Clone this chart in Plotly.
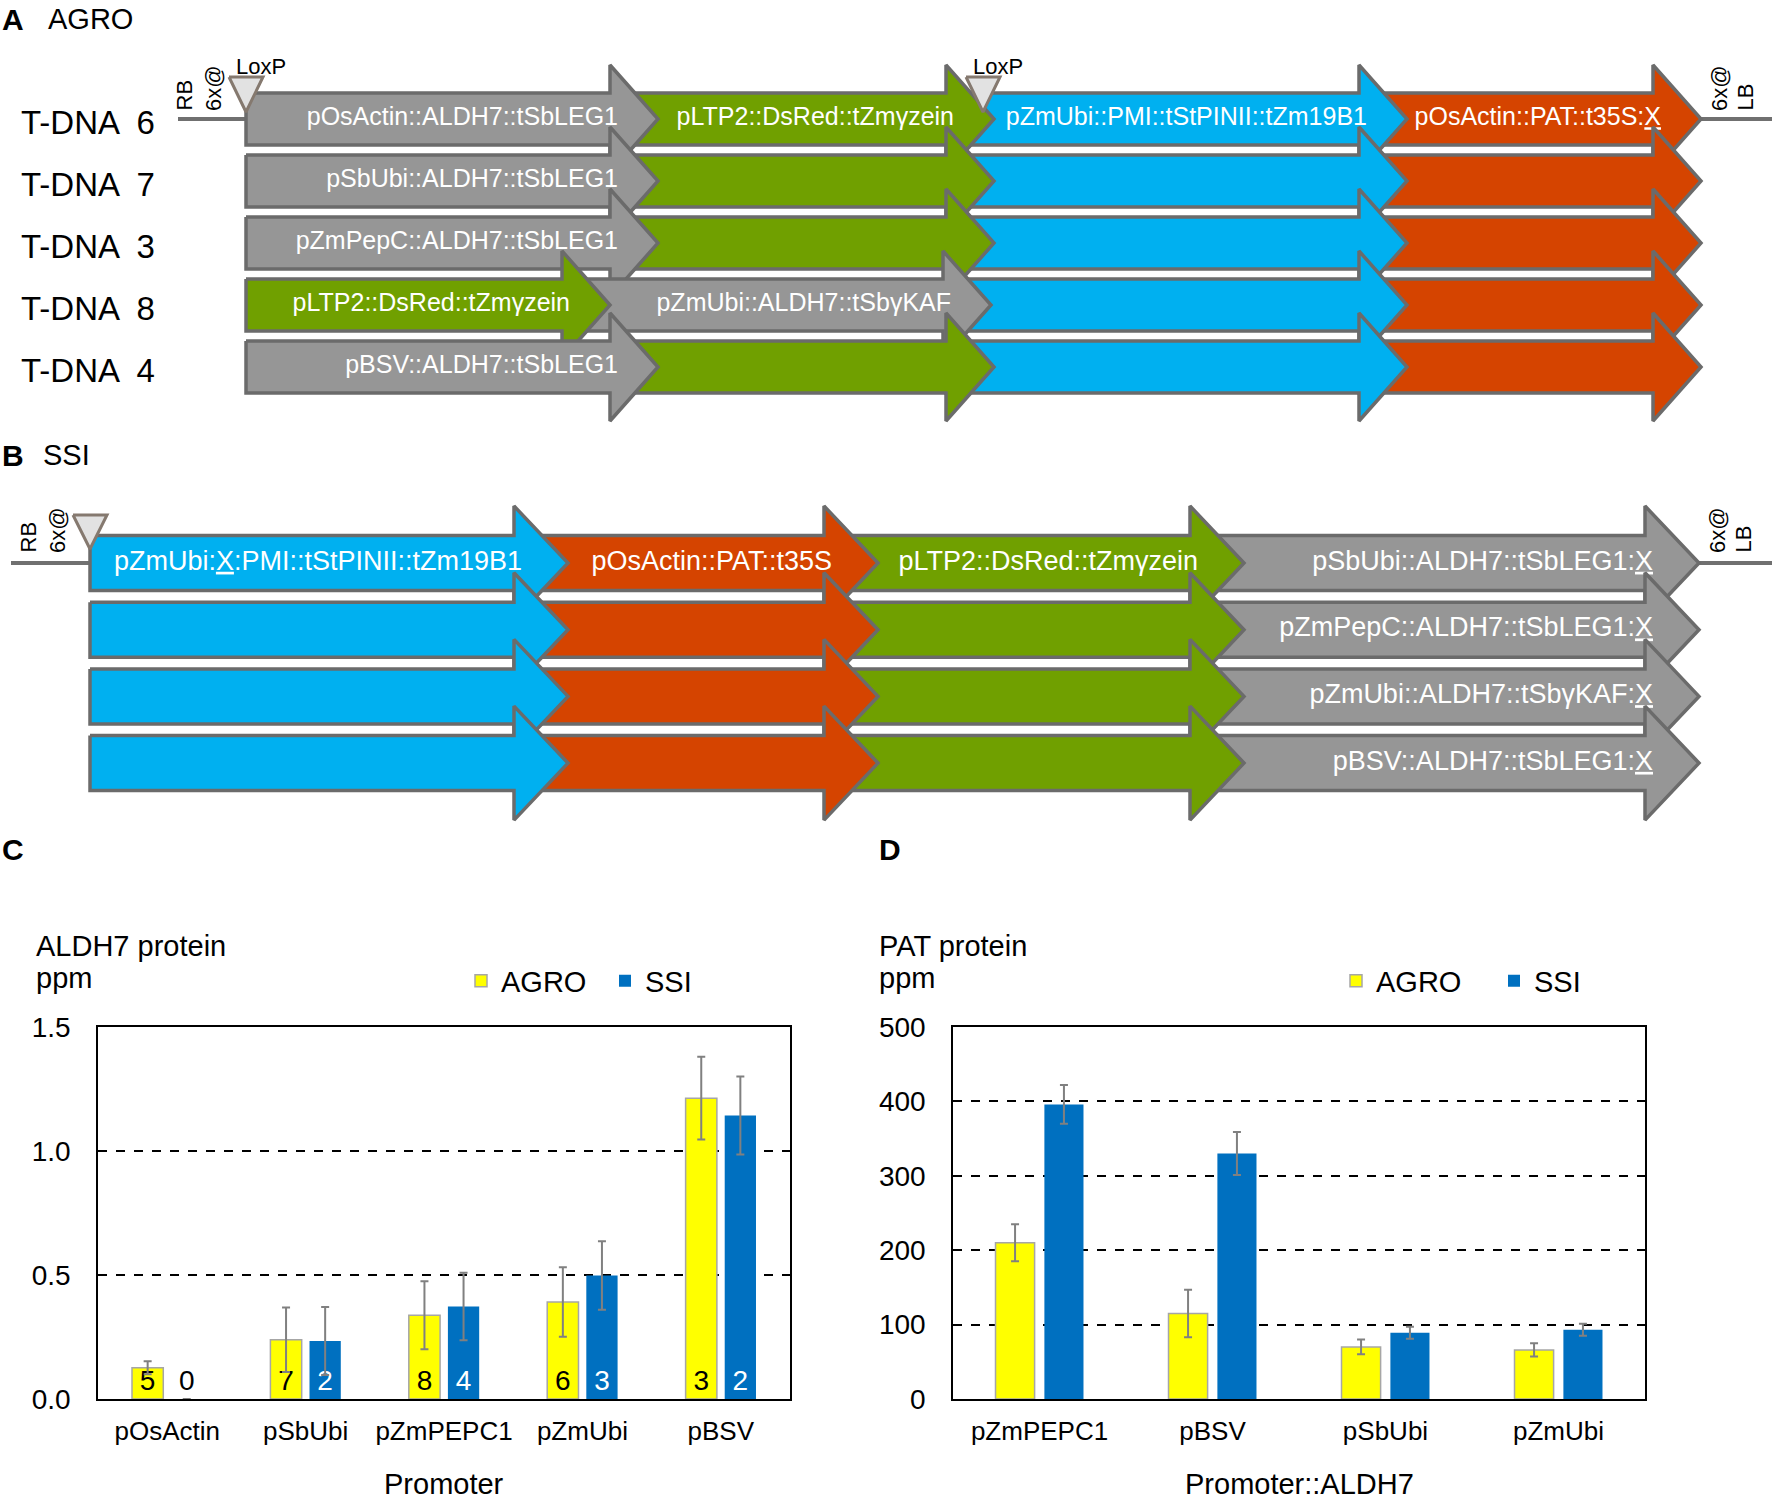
import plotly.graph_objects as go

W, H = 1772, 1503
FONT = "Liberation Sans, Arial, sans-serif"

ELEMENT_COLORS = {"ALDH7": "#969696", "DsRed": "#70A000", "PMI": "#00B0F0", "PAT": "#D54400"}
OUTLINE = "#6b6b6b"

# ---- panel A: AGRO T-DNAs (element order, lengths in map units, labels) ----
AGRO_ROWS = ["T-DNA\u20026", "T-DNA\u20027", "T-DNA\u20023", "T-DNA\u20028", "T-DNA\u20024"]
AGRO_ELEMENTS = [
    ["ALDH7", "DsRed", "PMI", "PAT"],
    ["ALDH7", "DsRed", "PMI", "PAT"],
    ["ALDH7", "DsRed", "PMI", "PAT"],
    ["DsRed", "ALDH7", "PMI", "PAT"],
    ["ALDH7", "DsRed", "PMI", "PAT"],
]
AGRO_LENGTHS = [
    [412, 336, 413, 294],
    [412, 336, 413, 294],
    [412, 336, 413, 294],
    [364, 381, 416, 294],
    [412, 336, 413, 294],
]
AGRO_LABELS = [
    ["pOsActin::ALDH7::tSbLEG1", "pLTP2::DsRed::tZmγzein",
     "pZmUbi::PMI::tStPINII::tZm19B1", "pOsActin::PAT::t35S:<u>X</u>"],
    ["pSbUbi::ALDH7::tSbLEG1", "", "", ""],
    ["pZmPepC::ALDH7::tSbLEG1", "", "", ""],
    ["pLTP2::DsRed::tZmγzein", "pZmUbi::ALDH7::tSbγKAF", "", ""],
    ["pBSV::ALDH7::tSbLEG1", "", "", ""],
]
AGRO_LOXP = [0, 737]

# ---- panel B: SSI targeting constructs ----
SSI_ELEMENTS = [
    ["PMI", "PAT", "DsRed", "ALDH7"],
    ["PMI", "PAT", "DsRed", "ALDH7"],
    ["PMI", "PAT", "DsRed", "ALDH7"],
    ["PMI", "PAT", "DsRed", "ALDH7"],
]
SSI_LENGTHS = [
    [478, 310, 366, 455],
    [478, 310, 366, 455],
    [478, 310, 366, 455],
    [478, 310, 366, 455],
]
SSI_LABELS = [
    ["pZmUbi:<u>X</u>:PMI::tStPINII::tZm19B1", "pOsActin::PAT::t35S",
     "pLTP2::DsRed::tZmγzein", "pSbUbi::ALDH7::tSbLEG1:<u>X</u>"],
    ["", "", "", "pZmPepC::ALDH7::tSbLEG1:<u>X</u>"],
    ["", "", "", "pZmUbi::ALDH7::tSbγKAF:<u>X</u>"],
    ["", "", "", "pBSV::ALDH7::tSbLEG1:<u>X</u>"],
]
SSI_LOXP = [0]

# ---- panel C: ALDH7 protein (ppm) ----
C_PROMOTERS = ["pOsActin", "pSbUbi", "pZmPEPC1", "pZmUbi", "pBSV"]
C_AGRO = [0.126, 0.239, 0.338, 0.391, 1.213]
C_AGRO_ERR = [0.026, 0.13, 0.137, 0.14, 0.167]
C_AGRO_N = [5, 7, 8, 6, 3]
C_SSI = [0, 0.234, 0.373, 0.498, 1.143]
C_SSI_ERR = [None, 0.137, 0.136, 0.138, 0.157]
C_SSI_N = [0, 2, 4, 3, 2]

# ---- panel D: PAT protein (ppm) ----
D_PROMOTERS = ["pZmPEPC1", "pBSV", "pSbUbi", "pZmUbi"]
D_AGRO = [210, 115, 70, 66]
D_AGRO_ERR = [25, 32, 10, 9]
D_SSI = [396, 330, 89, 93]
D_SSI_ERR = [26, 29, 8, 8]

# diagram geometry (canvas px on the x3/y3 overlay axes)
PANEL_A = dict(x0=246, y0=119, pitch=62, head=48, body=26, headh=54, size=25,
               flank=(178, 1772), loxp_top=77, loxp_bot=112, tag_bottom=113)
PANEL_B = dict(x0=90, y0=563, pitch=66.7, head=54, body=27.5, headh=57, size=27,
               flank=(11, 1772), loxp_top=515, loxp_bot=549, tag_bottom=555)


def px(x, y):
    return x / W, 1 - y / H


def arrow_xy(x0, x1, yc, p):
    xb = x1 - p["head"]
    xs = [x0, xb, xb, x1, xb, xb, x0, x0]
    ys = [yc - p["body"], yc - p["body"], yc - p["headh"], yc,
          yc + p["headh"], yc + p["body"], yc + p["body"], yc - p["body"]]
    return xs, ys


def draw_constructs(fig, elements, lengths, labels, loxp, p):
    x0 = p["x0"]
    total = sum(lengths[0])
    # flanking border lines
    for xa, xb in ((p["flank"][0], x0), (x0 + total, p["flank"][1])):
        fig.add_trace(go.Scatter(x=[xa, xb], y=[p["y0"], p["y0"]], mode="lines",
                                 line=dict(color="#707070", width=4), xaxis="x3", yaxis="y3",
                                 hoverinfo="skip", showlegend=False))
    for r, (elems, lens, labs) in enumerate(zip(elements, lengths, labels)):
        yc = p["y0"] + r * p["pitch"]
        tips, starts = [], []
        pos = 0
        for i, ln in enumerate(lens):
            starts.append(0 if i == 0 else tips[-1] - p["head"])
            pos += ln
            tips.append(pos)
        # right to left so earlier arrowheads sit on top
        for i in reversed(range(len(elems))):
            xs, ys = arrow_xy(x0 + starts[i], x0 + tips[i], yc, p)
            fig.add_trace(go.Scatter(x=xs, y=ys, mode="lines", fill="toself",
                                     fillcolor=ELEMENT_COLORS[elems[i]],
                                     line=dict(color=OUTLINE, width=3.5),
                                     xaxis="x3", yaxis="y3", hoverinfo="skip",
                                     showlegend=False))
        tx = [x0 + t - p["head"] + 8 for t, lab in zip(tips, labs) if lab]
        tt = [lab for lab in labs if lab]
        if tt:
            fig.add_trace(go.Scatter(x=tx, y=[yc] * len(tx), mode="text", text=tt,
                                     textposition="middle left",
                                     textfont=dict(family=FONT, size=p["size"], color="white"),
                                     xaxis="x3", yaxis="y3", hoverinfo="skip",
                                     showlegend=False))
    for lx in loxp:
        cx = x0 + lx
        fig.add_trace(go.Scatter(x=[cx - 17, cx + 17, cx, cx - 17],
                                 y=[p["loxp_top"], p["loxp_top"], p["loxp_bot"], p["loxp_top"]],
                                 mode="lines", fill="toself", fillcolor="#e2e2e2",
                                 line=dict(color="#85796f", width=3),
                                 xaxis="x3", yaxis="y3", hoverinfo="skip", showlegend=False))
    return total


fig = go.Figure()

tot_a = draw_constructs(fig, AGRO_ELEMENTS, AGRO_LENGTHS, AGRO_LABELS, AGRO_LOXP, PANEL_A)
tot_b = draw_constructs(fig, SSI_ELEMENTS, SSI_LENGTHS, SSI_LABELS, SSI_LOXP, PANEL_B)

# ---- bar charts ----
ERR = dict(type="data", color="#808080", thickness=2, width=4)
fig.add_trace(go.Bar(
    x=C_PROMOTERS, y=C_AGRO, name="AGRO", legend="legend",
    error_y=dict(array=C_AGRO_ERR, **ERR),
    marker=dict(color="#FFFF00", line=dict(color="#A6A6A6", width=1.5)),
    text=[str(n) for n in C_AGRO_N], textposition="inside", insidetextanchor="start",
    textangle=0, constraintext="none",
    textfont=dict(family=FONT, size=28, color="black"),
    xaxis="x", yaxis="y", hoverinfo="skip"))
fig.add_trace(go.Bar(
    x=C_PROMOTERS, y=C_SSI, name="SSI", legend="legend2",
    error_y=dict(array=C_SSI_ERR, **ERR),
    marker=dict(color="#0070C0", line=dict(width=0)),
    text=[str(n) for n in C_SSI_N],
    textposition=["outside" if v == 0 else "inside" for v in C_SSI],
    insidetextanchor="start", textangle=0, constraintext="none",
    insidetextfont=dict(family=FONT, size=28, color="white"),
    outsidetextfont=dict(family=FONT, size=28, color="black"),
    cliponaxis=False, xaxis="x", yaxis="y", hoverinfo="skip"))
fig.add_trace(go.Bar(
    x=D_PROMOTERS, y=D_AGRO, name="AGRO", legend="legend3",
    error_y=dict(array=D_AGRO_ERR, **ERR),
    marker=dict(color="#FFFF00", line=dict(color="#A6A6A6", width=1.5)),
    xaxis="x2", yaxis="y2", hoverinfo="skip"))
fig.add_trace(go.Bar(
    x=D_PROMOTERS, y=D_SSI, name="SSI", legend="legend4",
    error_y=dict(array=D_SSI_ERR, **ERR),
    marker=dict(color="#0070C0", line=dict(width=0)),
    xaxis="x2", yaxis="y2", hoverinfo="skip"))

C_BOX = (98, 790, 1027, 1399)
D_BOX = (953, 1645, 1027, 1399)


def xax(box):
    return dict(domain=[box[0] / W, box[1] / W], type="category", showline=True,
                linecolor="black", linewidth=2, mirror=True, ticks="", showgrid=False,
                tickfont=dict(family=FONT, size=26, color="black"), ticklabelstandoff=8,
                automargin=False, fixedrange=True)


def yax(box, rng, dtick, fmt):
    return dict(domain=[1 - box[3] / H, 1 - box[2] / H], range=rng, dtick=dtick,
                tickformat=fmt, showgrid=True, gridcolor="black", griddash="dash",
                gridwidth=1.5, showline=True, linecolor="black", linewidth=1.5,
                mirror=True, ticks="", zeroline=False, ticklabelstandoff=20,
                tickfont=dict(family=FONT, size=28, color="black"),
                automargin=False, fixedrange=True)


def legend_at(cx, cy):
    lx, ly = px(cx - 20, cy)
    return dict(x=lx, y=ly, xanchor="left", yanchor="middle", orientation="h",
                bgcolor="rgba(0,0,0,0)", font=dict(family=FONT, size=29, color="black"))


ann = []


def text(x, y, s, size, xanchor="left", bold=False, angle=0, yanchor="middle", ref="paper"):
    if ref == "paper":
        xx, yy = px(x, y)
        xr, yr = "paper", "paper"
    else:
        xx, yy = x, y
        xr, yr = "x3", "y3"
    ann.append(dict(x=xx, y=yy, xref=xr, yref=yr, text=f"<b>{s}</b>" if bold else s,
                    showarrow=False, xanchor=xanchor, yanchor=yanchor, textangle=angle,
                    font=dict(family=FONT, size=size, color="black")))


# panel headings
text(0, 19, "A", 30, bold=True)
text(46, 19, "AGRO", 29)
text(0, 455, "B", 30, bold=True)
text(41, 455, "SSI", 29)
text(0, 850, "C", 30, bold=True)
text(877, 850, "D", 30, bold=True)

# T-DNA row names
for r, name in enumerate(AGRO_ROWS):
    text(19, PANEL_A["y0"] + r * PANEL_A["pitch"] + 3, name, 33, ref="x3")

# border tags (rotated)
for p, tot in ((PANEL_A, tot_a), (PANEL_B, tot_b)):
    yb = p["tag_bottom"]
    text(p["x0"] - 62, yb, "RB", 22, xanchor="center", angle=-90, yanchor="bottom", ref="x3")
    text(p["x0"] - 33, yb, "6x@", 22, xanchor="center", angle=-90, yanchor="bottom", ref="x3")
    text(p["x0"] + tot + 18, yb, "6x@", 22, xanchor="center", angle=-90, yanchor="bottom", ref="x3")
    text(p["x0"] + tot + 44, yb, "LB", 22, xanchor="center", angle=-90, yanchor="bottom", ref="x3")
for lx in AGRO_LOXP:
    text(PANEL_A["x0"] + lx - 12, 66, "LoxP", 22, ref="x3")

# chart titles
text(34, 946, "ALDH7 protein", 29)
text(34, 978, "ppm", 29)
text(877, 946, "PAT protein", 29)
text(877, 978, "ppm", 29)
text((C_BOX[0] + C_BOX[1]) / 2, 1484, "Promoter", 29, xanchor="center")
text((D_BOX[0] + D_BOX[1]) / 2, 1484, "Promoter::ALDH7", 29, xanchor="center")

fig.update_layout(
    width=W, height=H, margin=dict(l=0, r=0, t=0, b=0, pad=0, autoexpand=False),
    paper_bgcolor="white", plot_bgcolor="rgba(0,0,0,0)",
    font=dict(family=FONT, color="black"),
    barmode="group", bargap=0.435, bargroupgap=0.2,
    hovermode=False,
    xaxis=xax(C_BOX), yaxis=yax(C_BOX, [0, 1.5], 0.5, ".1f"),
    xaxis2=dict(xax(D_BOX), anchor="y2"), yaxis2=dict(yax(D_BOX, [0, 500], 100, "d"), anchor="x2"),
    xaxis3=dict(domain=[0, 1], range=[0, W], visible=False, fixedrange=True, anchor="y3",
                automargin=False),
    yaxis3=dict(domain=[0, 1], range=[H, 0], visible=False, fixedrange=True, anchor="x3",
                automargin=False),
    legend=legend_at(481, 981),
    legend2=legend_at(625, 981),
    legend3=legend_at(1356, 981),
    legend4=legend_at(1514, 981),
    annotations=ann,
)

# pin the figure to the top-left corner of the page (no default body margin)
PIN = ("document.body.style.margin='0';"
       "var gd=document.getElementById('{plot_id}');"
       "gd.style.position='fixed';gd.style.left='0px';gd.style.top='0px';")
fig.write_html("out.html", post_script=PIN, config={"displayModeBar": False})
